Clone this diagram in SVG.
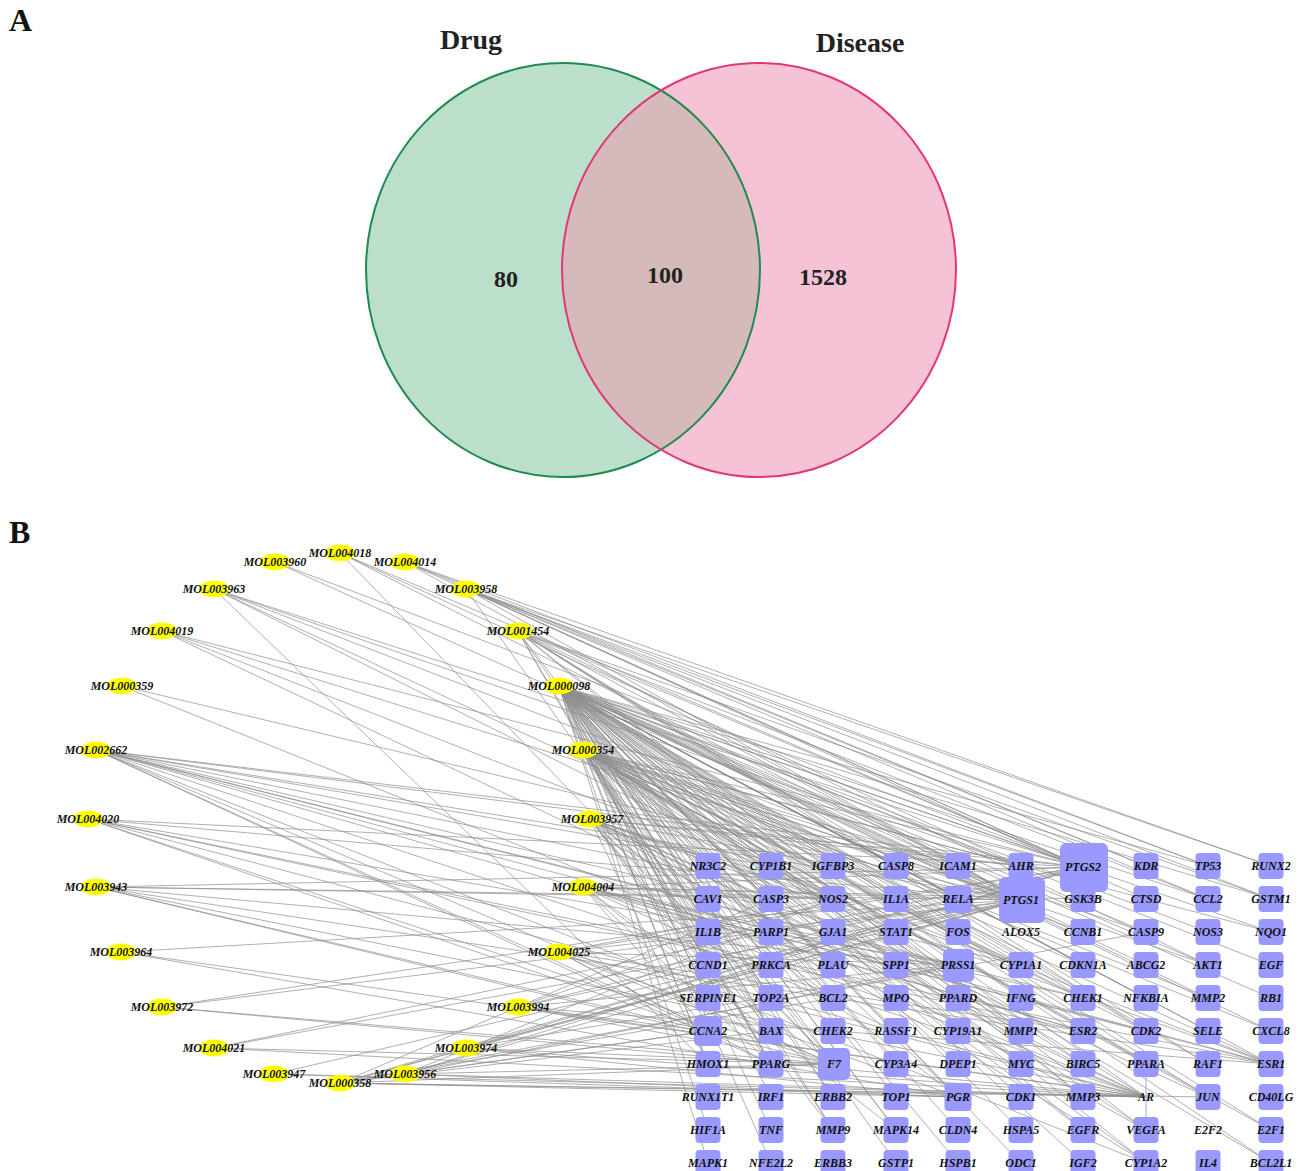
<svg xmlns="http://www.w3.org/2000/svg" width="1308" height="1171" viewBox="0 0 1308 1171">
<style>
.panel{font-family:"Liberation Serif",serif;font-weight:bold;font-size:32px;fill:#111}
.vt{font-family:"Liberation Serif",serif;font-weight:bold;font-size:28px;fill:#222;text-anchor:middle}
.vn{font-family:"Liberation Serif",serif;font-weight:bold;font-size:24px;fill:#222;text-anchor:middle}
.lbl{font-family:"Liberation Serif",serif;font-weight:bold;font-style:italic;font-size:12px;fill:#111;text-anchor:middle}
.mol ellipse{fill:#ffff00}
.gene rect{fill:#9999ff}
#edges line{stroke:#8e8e8e;stroke-width:0.7}
</style>
<defs>
<clipPath id="clipGreen"><ellipse cx="563" cy="270" rx="197" ry="207"/></clipPath>
</defs>
<rect width="1308" height="1171" fill="#ffffff"/>
<text class="panel" x="9" y="31">A</text>
<text class="panel" x="9" y="543">B</text>
<g id="venn">
<ellipse id="drug-set" cx="563" cy="270" rx="197" ry="207" fill="#bcdfcb"/>
<ellipse id="disease-set" cx="759" cy="270" rx="197" ry="207" fill="#f6c3d6"/>
<ellipse cx="759" cy="270" rx="197" ry="207" fill="#d6b9b9" clip-path="url(#clipGreen)"/>
<ellipse cx="563" cy="270" rx="197" ry="207" fill="none" stroke="#1f8b4f" stroke-width="2"/>
<ellipse cx="759" cy="270" rx="197" ry="207" fill="none" stroke="#e0377a" stroke-width="2"/>
<text class="vt" x="471" y="49">Drug</text>
<text class="vt" x="860" y="52">Disease</text>
<text class="vn" x="506" y="287">80</text>
<text class="vn" x="665" y="283">100</text>
<text class="vn" x="823" y="285">1528</text>
</g>
<g id="edges">
<line x1="559" y1="686" x2="771" y2="866"/><line x1="559" y1="686" x2="833" y2="866"/><line x1="559" y1="686" x2="896" y2="866"/><line x1="559" y1="686" x2="958" y2="866"/><line x1="559" y1="686" x2="1021" y2="866"/><line x1="559" y1="686" x2="1083" y2="867"/><line x1="559" y1="686" x2="1208" y2="866"/>
<line x1="559" y1="686" x2="708" y2="899"/><line x1="559" y1="686" x2="771" y2="899"/><line x1="559" y1="686" x2="833" y2="899"/><line x1="559" y1="686" x2="896" y2="899"/><line x1="559" y1="686" x2="958" y2="899"/><line x1="559" y1="686" x2="1022" y2="900"/><line x1="559" y1="686" x2="1208" y2="899"/><line x1="559" y1="686" x2="1271" y2="899"/>
<line x1="559" y1="686" x2="708" y2="932"/><line x1="559" y1="686" x2="771" y2="932"/><line x1="559" y1="686" x2="833" y2="932"/><line x1="559" y1="686" x2="896" y2="932"/><line x1="559" y1="686" x2="958" y2="932"/><line x1="559" y1="686" x2="1083" y2="932"/><line x1="559" y1="686" x2="1146" y2="932"/><line x1="559" y1="686" x2="1208" y2="932"/><line x1="559" y1="686" x2="1271" y2="932"/>
<line x1="559" y1="686" x2="708" y2="965"/><line x1="559" y1="686" x2="833" y2="965"/><line x1="559" y1="686" x2="896" y2="965"/><line x1="559" y1="686" x2="1021" y2="965"/><line x1="559" y1="686" x2="1083" y2="965"/><line x1="559" y1="686" x2="1146" y2="965"/><line x1="559" y1="686" x2="1208" y2="965"/><line x1="559" y1="686" x2="1271" y2="965"/>
<line x1="559" y1="686" x2="708" y2="998"/><line x1="559" y1="686" x2="771" y2="998"/><line x1="559" y1="686" x2="833" y2="998"/><line x1="559" y1="686" x2="1021" y2="998"/><line x1="559" y1="686" x2="1083" y2="998"/><line x1="559" y1="686" x2="1146" y2="998"/><line x1="559" y1="686" x2="1208" y2="998"/><line x1="559" y1="686" x2="1271" y2="998"/>
<line x1="559" y1="686" x2="708" y2="1031"/><line x1="559" y1="686" x2="771" y2="1031"/><line x1="559" y1="686" x2="833" y2="1031"/><line x1="559" y1="686" x2="896" y2="1031"/><line x1="559" y1="686" x2="1021" y2="1031"/><line x1="559" y1="686" x2="1146" y2="1031"/><line x1="559" y1="686" x2="1208" y2="1031"/><line x1="559" y1="686" x2="1271" y2="1031"/>
<line x1="559" y1="686" x2="708" y2="1064"/><line x1="559" y1="686" x2="771" y2="1064"/><line x1="559" y1="686" x2="834" y2="1064"/><line x1="559" y1="686" x2="896" y2="1064"/><line x1="559" y1="686" x2="958" y2="1064"/><line x1="559" y1="686" x2="1021" y2="1064"/><line x1="559" y1="686" x2="1083" y2="1064"/><line x1="559" y1="686" x2="1146" y2="1064"/><line x1="559" y1="686" x2="1208" y2="1064"/><line x1="559" y1="686" x2="1271" y2="1064"/>
<line x1="559" y1="686" x2="771" y2="1097"/><line x1="559" y1="686" x2="833" y2="1097"/><line x1="559" y1="686" x2="896" y2="1097"/><line x1="559" y1="686" x2="958" y2="1097"/><line x1="559" y1="686" x2="1021" y2="1097"/><line x1="559" y1="686" x2="1083" y2="1097"/><line x1="559" y1="686" x2="1146" y2="1097"/><line x1="559" y1="686" x2="1208" y2="1097"/>
<line x1="559" y1="686" x2="708" y2="1130"/><line x1="559" y1="686" x2="771" y2="1130"/><line x1="559" y1="686" x2="833" y2="1130"/><line x1="559" y1="686" x2="896" y2="1130"/><line x1="559" y1="686" x2="958" y2="1130"/><line x1="559" y1="686" x2="1021" y2="1130"/><line x1="559" y1="686" x2="1083" y2="1130"/><line x1="559" y1="686" x2="1146" y2="1130"/><line x1="559" y1="686" x2="1271" y2="1130"/>
<line x1="559" y1="686" x2="708" y2="1163"/><line x1="559" y1="686" x2="771" y2="1163"/><line x1="559" y1="686" x2="896" y2="1163"/><line x1="559" y1="686" x2="958" y2="1163"/><line x1="559" y1="686" x2="1021" y2="1163"/><line x1="559" y1="686" x2="1083" y2="1163"/><line x1="559" y1="686" x2="1146" y2="1163"/><line x1="559" y1="686" x2="1271" y2="1163"/>
<line x1="583" y1="750" x2="771" y2="866"/><line x1="583" y1="750" x2="958" y2="866"/><line x1="583" y1="750" x2="1021" y2="866"/><line x1="583" y1="750" x2="1083" y2="867"/><line x1="583" y1="750" x2="1022" y2="900"/><line x1="583" y1="750" x2="958" y2="899"/><line x1="583" y1="750" x2="833" y2="899"/><line x1="583" y1="750" x2="771" y2="899"/><line x1="583" y1="750" x2="771" y2="932"/><line x1="583" y1="750" x2="896" y2="932"/><line x1="583" y1="750" x2="958" y2="932"/><line x1="583" y1="750" x2="1083" y2="932"/><line x1="583" y1="750" x2="1146" y2="932"/><line x1="583" y1="750" x2="1271" y2="932"/><line x1="583" y1="750" x2="708" y2="965"/><line x1="583" y1="750" x2="833" y2="965"/><line x1="583" y1="750" x2="1021" y2="965"/><line x1="583" y1="750" x2="1083" y2="965"/><line x1="583" y1="750" x2="1208" y2="965"/><line x1="583" y1="750" x2="771" y2="998"/><line x1="583" y1="750" x2="833" y2="998"/><line x1="583" y1="750" x2="1083" y2="998"/><line x1="583" y1="750" x2="1208" y2="998"/><line x1="583" y1="750" x2="771" y2="1031"/><line x1="583" y1="750" x2="1021" y2="1031"/><line x1="583" y1="750" x2="1146" y2="1031"/><line x1="583" y1="750" x2="1271" y2="1031"/><line x1="583" y1="750" x2="708" y2="1064"/><line x1="583" y1="750" x2="771" y2="1064"/><line x1="583" y1="750" x2="834" y2="1064"/><line x1="583" y1="750" x2="1021" y2="1064"/><line x1="583" y1="750" x2="1083" y2="1064"/><line x1="583" y1="750" x2="1146" y2="1064"/><line x1="583" y1="750" x2="1271" y2="1064"/><line x1="583" y1="750" x2="833" y2="1097"/><line x1="583" y1="750" x2="958" y2="1097"/><line x1="583" y1="750" x2="1146" y2="1097"/><line x1="583" y1="750" x2="1208" y2="1097"/><line x1="583" y1="750" x2="833" y2="1130"/><line x1="583" y1="750" x2="1083" y2="1130"/><line x1="583" y1="750" x2="1146" y2="1130"/><line x1="583" y1="750" x2="1271" y2="1130"/><line x1="583" y1="750" x2="1146" y2="1163"/><line x1="583" y1="750" x2="1271" y2="1163"/>
<line x1="590" y1="819" x2="1083" y2="867"/><line x1="590" y1="819" x2="1022" y2="900"/><line x1="590" y1="819" x2="1021" y2="866"/><line x1="590" y1="819" x2="833" y2="899"/><line x1="590" y1="819" x2="771" y2="899"/><line x1="590" y1="819" x2="708" y2="932"/><line x1="590" y1="819" x2="958" y2="932"/><line x1="590" y1="819" x2="708" y2="965"/><line x1="590" y1="819" x2="833" y2="998"/><line x1="590" y1="819" x2="771" y2="1031"/><line x1="590" y1="819" x2="1021" y2="1031"/><line x1="590" y1="819" x2="708" y2="1064"/><line x1="590" y1="819" x2="834" y2="1064"/><line x1="590" y1="819" x2="771" y2="1064"/><line x1="590" y1="819" x2="1271" y2="1064"/><line x1="590" y1="819" x2="1146" y2="1097"/><line x1="590" y1="819" x2="958" y2="1097"/><line x1="590" y1="819" x2="1208" y2="1097"/><line x1="590" y1="819" x2="833" y2="1130"/><line x1="590" y1="819" x2="1146" y2="1130"/><line x1="590" y1="819" x2="1021" y2="965"/><line x1="590" y1="819" x2="1146" y2="1163"/>
<line x1="583" y1="887" x2="1083" y2="867"/><line x1="583" y1="887" x2="1022" y2="900"/><line x1="583" y1="887" x2="833" y2="899"/><line x1="583" y1="887" x2="1146" y2="1097"/><line x1="583" y1="887" x2="1271" y2="1064"/><line x1="583" y1="887" x2="771" y2="1064"/><line x1="583" y1="887" x2="834" y2="1064"/><line x1="583" y1="887" x2="708" y2="1031"/><line x1="583" y1="887" x2="958" y2="965"/><line x1="583" y1="887" x2="1083" y2="998"/><line x1="583" y1="887" x2="1146" y2="1031"/><line x1="583" y1="887" x2="896" y2="1130"/><line x1="583" y1="887" x2="1083" y2="899"/><line x1="583" y1="887" x2="1083" y2="1031"/><line x1="583" y1="887" x2="896" y2="1031"/>
<line x1="559" y1="952" x2="1083" y2="867"/><line x1="559" y1="952" x2="1022" y2="900"/><line x1="559" y1="952" x2="1146" y2="1097"/><line x1="559" y1="952" x2="834" y2="1064"/><line x1="559" y1="952" x2="958" y2="965"/><line x1="559" y1="952" x2="1083" y2="1031"/><line x1="559" y1="952" x2="708" y2="1031"/><line x1="559" y1="952" x2="833" y2="899"/><line x1="559" y1="952" x2="771" y2="1064"/><line x1="559" y1="952" x2="958" y2="1097"/>
<line x1="518" y1="1007" x2="1083" y2="867"/><line x1="518" y1="1007" x2="1022" y2="900"/><line x1="518" y1="1007" x2="1146" y2="1097"/><line x1="518" y1="1007" x2="958" y2="965"/><line x1="518" y1="1007" x2="834" y2="1064"/><line x1="518" y1="1007" x2="708" y2="1031"/><line x1="518" y1="1007" x2="1271" y2="1064"/><line x1="518" y1="1007" x2="833" y2="899"/>
<line x1="466" y1="1048" x2="1083" y2="867"/><line x1="466" y1="1048" x2="1022" y2="900"/><line x1="466" y1="1048" x2="1146" y2="1097"/><line x1="466" y1="1048" x2="834" y2="1064"/><line x1="466" y1="1048" x2="958" y2="965"/><line x1="466" y1="1048" x2="958" y2="1097"/>
<line x1="405" y1="1074" x2="1083" y2="867"/><line x1="405" y1="1074" x2="1022" y2="900"/><line x1="405" y1="1074" x2="1146" y2="1097"/><line x1="405" y1="1074" x2="834" y2="1064"/><line x1="405" y1="1074" x2="958" y2="965"/><line x1="405" y1="1074" x2="708" y2="1031"/><line x1="405" y1="1074" x2="958" y2="1097"/><line x1="405" y1="1074" x2="833" y2="899"/>
<line x1="340" y1="1083" x2="1083" y2="867"/><line x1="340" y1="1083" x2="1022" y2="900"/><line x1="340" y1="1083" x2="1146" y2="1097"/><line x1="340" y1="1083" x2="958" y2="1097"/><line x1="340" y1="1083" x2="834" y2="1064"/><line x1="340" y1="1083" x2="708" y2="1031"/><line x1="340" y1="1083" x2="771" y2="965"/><line x1="340" y1="1083" x2="833" y2="998"/><line x1="340" y1="1083" x2="771" y2="899"/><line x1="340" y1="1083" x2="1146" y2="932"/><line x1="340" y1="1083" x2="1208" y2="1097"/><line x1="340" y1="1083" x2="771" y2="1031"/>
<line x1="274" y1="1074" x2="1146" y2="1097"/><line x1="274" y1="1074" x2="958" y2="1097"/><line x1="274" y1="1074" x2="1022" y2="900"/>
<line x1="214" y1="1048" x2="1022" y2="900"/><line x1="214" y1="1048" x2="1083" y2="867"/><line x1="214" y1="1048" x2="1146" y2="1097"/><line x1="214" y1="1048" x2="834" y2="1064"/>
<line x1="162" y1="1007" x2="1083" y2="867"/><line x1="162" y1="1007" x2="1146" y2="1097"/><line x1="162" y1="1007" x2="1022" y2="900"/><line x1="162" y1="1007" x2="834" y2="1064"/>
<line x1="121" y1="952" x2="1146" y2="1097"/><line x1="121" y1="952" x2="958" y2="1097"/><line x1="121" y1="952" x2="1022" y2="900"/>
<line x1="96" y1="887" x2="1083" y2="867"/><line x1="96" y1="887" x2="1022" y2="900"/><line x1="96" y1="887" x2="1146" y2="1097"/><line x1="96" y1="887" x2="834" y2="1064"/><line x1="96" y1="887" x2="958" y2="965"/><line x1="96" y1="887" x2="708" y2="1031"/><line x1="96" y1="887" x2="1271" y2="1064"/><line x1="96" y1="887" x2="833" y2="899"/>
<line x1="88" y1="819" x2="1083" y2="867"/><line x1="88" y1="819" x2="1022" y2="900"/><line x1="88" y1="819" x2="1146" y2="1097"/><line x1="88" y1="819" x2="834" y2="1064"/><line x1="88" y1="819" x2="958" y2="965"/><line x1="88" y1="819" x2="708" y2="1031"/><line x1="88" y1="819" x2="1271" y2="1064"/><line x1="88" y1="819" x2="1083" y2="1031"/>
<line x1="96" y1="750" x2="1083" y2="867"/><line x1="96" y1="750" x2="1022" y2="900"/><line x1="96" y1="750" x2="1021" y2="866"/><line x1="96" y1="750" x2="1021" y2="965"/><line x1="96" y1="750" x2="1146" y2="1163"/><line x1="96" y1="750" x2="771" y2="866"/><line x1="96" y1="750" x2="1146" y2="1097"/><line x1="96" y1="750" x2="1271" y2="1064"/><line x1="96" y1="750" x2="833" y2="899"/><line x1="96" y1="750" x2="771" y2="1064"/><line x1="96" y1="750" x2="834" y2="1064"/><line x1="96" y1="750" x2="958" y2="965"/><line x1="96" y1="750" x2="708" y2="1031"/><line x1="96" y1="750" x2="1083" y2="998"/><line x1="96" y1="750" x2="1083" y2="1031"/>
<line x1="122" y1="686" x2="1146" y2="1097"/><line x1="122" y1="686" x2="1022" y2="900"/>
<line x1="162" y1="631" x2="1083" y2="867"/><line x1="162" y1="631" x2="1022" y2="900"/><line x1="162" y1="631" x2="1146" y2="1097"/><line x1="162" y1="631" x2="1271" y2="1064"/>
<line x1="214" y1="589" x2="1083" y2="867"/><line x1="214" y1="589" x2="1022" y2="900"/><line x1="214" y1="589" x2="1021" y2="866"/><line x1="214" y1="589" x2="833" y2="899"/><line x1="214" y1="589" x2="1021" y2="965"/><line x1="214" y1="589" x2="708" y2="1064"/>
<line x1="275" y1="562" x2="1083" y2="867"/><line x1="275" y1="562" x2="1022" y2="900"/>
<line x1="340" y1="553" x2="1083" y2="867"/><line x1="340" y1="553" x2="1022" y2="900"/><line x1="340" y1="553" x2="834" y2="1064"/><line x1="340" y1="553" x2="1021" y2="866"/>
<line x1="405" y1="562" x2="1083" y2="867"/><line x1="405" y1="562" x2="1022" y2="900"/><line x1="405" y1="562" x2="1271" y2="866"/><line x1="405" y1="562" x2="1208" y2="866"/><line x1="405" y1="562" x2="1146" y2="866"/>
<line x1="466" y1="589" x2="1083" y2="867"/><line x1="466" y1="589" x2="1022" y2="900"/><line x1="466" y1="589" x2="1271" y2="866"/><line x1="466" y1="589" x2="1208" y2="866"/><line x1="466" y1="589" x2="1146" y2="866"/><line x1="466" y1="589" x2="1271" y2="899"/><line x1="466" y1="589" x2="1208" y2="899"/><line x1="466" y1="589" x2="708" y2="932"/><line x1="466" y1="589" x2="1146" y2="899"/>
<line x1="518" y1="631" x2="1083" y2="867"/><line x1="518" y1="631" x2="1022" y2="900"/><line x1="518" y1="631" x2="1271" y2="899"/><line x1="518" y1="631" x2="1208" y2="899"/><line x1="518" y1="631" x2="896" y2="866"/><line x1="518" y1="631" x2="958" y2="899"/><line x1="518" y1="631" x2="708" y2="965"/><line x1="518" y1="631" x2="771" y2="998"/><line x1="518" y1="631" x2="1021" y2="1031"/><line x1="518" y1="631" x2="1146" y2="1031"/><line x1="518" y1="631" x2="1208" y2="1064"/><line x1="518" y1="631" x2="1083" y2="1097"/><line x1="518" y1="631" x2="896" y2="1130"/><line x1="518" y1="631" x2="1208" y2="965"/><line x1="518" y1="631" x2="771" y2="1064"/>
<line x1="1146" y1="1064" x2="1146" y2="1130" style="stroke:#b3b3ff;stroke-width:1.2"/>
</g>
<g id="compounds">
<g id="MOL003960" class="mol"><ellipse cx="275" cy="562" rx="15" ry="8.5"/><text class="lbl" x="275" y="566">MOL003960</text></g>
<g id="MOL004018" class="mol"><ellipse cx="340" cy="553" rx="15" ry="8.5"/><text class="lbl" x="340" y="557">MOL004018</text></g>
<g id="MOL004014" class="mol"><ellipse cx="405" cy="562" rx="15" ry="8.5"/><text class="lbl" x="405" y="566">MOL004014</text></g>
<g id="MOL003963" class="mol"><ellipse cx="214" cy="589" rx="15" ry="8.5"/><text class="lbl" x="214" y="593">MOL003963</text></g>
<g id="MOL003958" class="mol"><ellipse cx="466" cy="589" rx="15" ry="8.5"/><text class="lbl" x="466" y="593">MOL003958</text></g>
<g id="MOL004019" class="mol"><ellipse cx="162" cy="631" rx="15" ry="8.5"/><text class="lbl" x="162" y="635">MOL004019</text></g>
<g id="MOL001454" class="mol"><ellipse cx="518" cy="631" rx="15" ry="8.5"/><text class="lbl" x="518" y="635">MOL001454</text></g>
<g id="MOL000359" class="mol"><ellipse cx="122" cy="686" rx="15" ry="8.5"/><text class="lbl" x="122" y="690">MOL000359</text></g>
<g id="MOL000098" class="mol"><ellipse cx="559" cy="686" rx="15" ry="8.5"/><text class="lbl" x="559" y="690">MOL000098</text></g>
<g id="MOL002662" class="mol"><ellipse cx="96" cy="750" rx="15" ry="8.5"/><text class="lbl" x="96" y="754">MOL002662</text></g>
<g id="MOL000354" class="mol"><ellipse cx="583" cy="750" rx="15" ry="8.5"/><text class="lbl" x="583" y="754">MOL000354</text></g>
<g id="MOL004020" class="mol"><ellipse cx="88" cy="819" rx="15" ry="8.5"/><text class="lbl" x="88" y="823">MOL004020</text></g>
<g id="MOL003957" class="mol"><ellipse cx="590" cy="819" rx="15" ry="8.5"/><text class="lbl" x="592" y="823">MOL003957</text></g>
<g id="MOL003943" class="mol"><ellipse cx="96" cy="887" rx="15" ry="8.5"/><text class="lbl" x="96" y="891">MOL003943</text></g>
<g id="MOL004004" class="mol"><ellipse cx="583" cy="887" rx="15" ry="8.5"/><text class="lbl" x="583" y="891">MOL004004</text></g>
<g id="MOL003964" class="mol"><ellipse cx="121" cy="952" rx="15" ry="8.5"/><text class="lbl" x="121" y="956">MOL003964</text></g>
<g id="MOL004025" class="mol"><ellipse cx="559" cy="952" rx="15" ry="8.5"/><text class="lbl" x="559" y="956">MOL004025</text></g>
<g id="MOL003972" class="mol"><ellipse cx="162" cy="1007" rx="15" ry="8.5"/><text class="lbl" x="162" y="1011">MOL003972</text></g>
<g id="MOL003994" class="mol"><ellipse cx="518" cy="1007" rx="15" ry="8.5"/><text class="lbl" x="518" y="1011">MOL003994</text></g>
<g id="MOL004021" class="mol"><ellipse cx="214" cy="1048" rx="15" ry="8.5"/><text class="lbl" x="214" y="1052">MOL004021</text></g>
<g id="MOL003974" class="mol"><ellipse cx="466" cy="1048" rx="15" ry="8.5"/><text class="lbl" x="466" y="1052">MOL003974</text></g>
<g id="MOL003947" class="mol"><ellipse cx="274" cy="1074" rx="15" ry="8.5"/><text class="lbl" x="274" y="1078">MOL003947</text></g>
<g id="MOL000358" class="mol"><ellipse cx="340" cy="1083" rx="15" ry="8.5"/><text class="lbl" x="340" y="1087">MOL000358</text></g>
<g id="MOL003956" class="mol"><ellipse cx="405" cy="1074" rx="15" ry="8.5"/><text class="lbl" x="405" y="1078">MOL003956</text></g>
</g>
<g id="targets">
<g id="NR3C2" class="gene"><rect x="695.5" y="853" width="25" height="26" rx="4"/><text class="lbl" x="708" y="870">NR3C2</text></g>
<g id="CYP1B1" class="gene"><rect x="758.5" y="853" width="25" height="26" rx="4"/><text class="lbl" x="771" y="870">CYP1B1</text></g>
<g id="IGFBP3" class="gene"><rect x="820.5" y="853" width="25" height="26" rx="4"/><text class="lbl" x="833" y="870">IGFBP3</text></g>
<g id="CASP8" class="gene"><rect x="883.5" y="853" width="25" height="26" rx="4"/><text class="lbl" x="896" y="870">CASP8</text></g>
<g id="ICAM1" class="gene"><rect x="945.5" y="853" width="25" height="26" rx="4"/><text class="lbl" x="958" y="870">ICAM1</text></g>
<g id="AHR" class="gene"><rect x="1008.5" y="853" width="25" height="26" rx="4"/><text class="lbl" x="1021" y="870">AHR</text></g>
<g id="KDR" class="gene"><rect x="1133.5" y="853" width="25" height="26" rx="4"/><text class="lbl" x="1146" y="870">KDR</text></g>
<g id="TP53" class="gene"><rect x="1195.5" y="853" width="25" height="26" rx="4"/><text class="lbl" x="1208" y="870">TP53</text></g>
<g id="RUNX2" class="gene"><rect x="1258.5" y="853" width="25" height="26" rx="4"/><text class="lbl" x="1271" y="870">RUNX2</text></g>
<g id="CAV1" class="gene"><rect x="695.5" y="886" width="25" height="26" rx="4"/><text class="lbl" x="708" y="903">CAV1</text></g>
<g id="CASP3" class="gene"><rect x="758.5" y="886" width="25" height="26" rx="4"/><text class="lbl" x="771" y="903">CASP3</text></g>
<g id="NOS2" class="gene"><rect x="820.5" y="886" width="25" height="26" rx="4"/><text class="lbl" x="833" y="903">NOS2</text></g>
<g id="IL1A" class="gene"><rect x="883.5" y="886" width="25" height="26" rx="4"/><text class="lbl" x="896" y="903">IL1A</text></g>
<g id="RELA" class="gene"><rect x="944.5" y="886" width="27" height="27" rx="4"/><text class="lbl" x="958" y="903">RELA</text></g>
<g id="GSK3B" class="gene"><rect x="1070.5" y="886" width="25" height="26" rx="4"/><text class="lbl" x="1083" y="903">GSK3B</text></g>
<g id="CTSD" class="gene"><rect x="1133.5" y="886" width="25" height="26" rx="4"/><text class="lbl" x="1146" y="903">CTSD</text></g>
<g id="CCL2" class="gene"><rect x="1195.5" y="886" width="25" height="26" rx="4"/><text class="lbl" x="1208" y="903">CCL2</text></g>
<g id="GSTM1" class="gene"><rect x="1258.5" y="886" width="25" height="26" rx="4"/><text class="lbl" x="1271" y="903">GSTM1</text></g>
<g id="PTGS2" class="gene"><rect x="1060" y="843" width="48" height="49" rx="6"/><text class="lbl" x="1083" y="871">PTGS2</text></g>
<g id="PTGS1" class="gene"><rect x="999" y="877" width="46" height="46" rx="6"/><text class="lbl" x="1021" y="904">PTGS1</text></g>
<g id="IL1B" class="gene"><rect x="695.5" y="919" width="25" height="26" rx="4"/><text class="lbl" x="708" y="936">IL1B</text></g>
<g id="PARP1" class="gene"><rect x="758.5" y="919" width="25" height="26" rx="4"/><text class="lbl" x="771" y="936">PARP1</text></g>
<g id="GJA1" class="gene"><rect x="820.5" y="919" width="25" height="26" rx="4"/><text class="lbl" x="833" y="936">GJA1</text></g>
<g id="STAT1" class="gene"><rect x="883.5" y="919" width="25" height="26" rx="4"/><text class="lbl" x="896" y="936">STAT1</text></g>
<g id="FOS" class="gene"><rect x="945.5" y="919" width="25" height="26" rx="4"/><text class="lbl" x="958" y="936">FOS</text></g>
<g id="ALOX5" class="gene"><text class="lbl" x="1021" y="936">ALOX5</text></g>
<g id="CCNB1" class="gene"><rect x="1070.5" y="919" width="25" height="26" rx="4"/><text class="lbl" x="1083" y="936">CCNB1</text></g>
<g id="CASP9" class="gene"><rect x="1133.5" y="919" width="25" height="26" rx="4"/><text class="lbl" x="1146" y="936">CASP9</text></g>
<g id="NOS3" class="gene"><rect x="1195.5" y="919" width="25" height="26" rx="4"/><text class="lbl" x="1208" y="936">NOS3</text></g>
<g id="NQO1" class="gene"><rect x="1258.5" y="919" width="25" height="26" rx="4"/><text class="lbl" x="1271" y="936">NQO1</text></g>
<g id="CCND1" class="gene"><rect x="695.5" y="952" width="25" height="26" rx="4"/><text class="lbl" x="708" y="969">CCND1</text></g>
<g id="PRKCA" class="gene"><rect x="758.5" y="952" width="25" height="26" rx="4"/><text class="lbl" x="771" y="969">PRKCA</text></g>
<g id="PLAU" class="gene"><rect x="820.5" y="952" width="25" height="26" rx="4"/><text class="lbl" x="833" y="969">PLAU</text></g>
<g id="SPP1" class="gene"><rect x="883.5" y="952" width="25" height="26" rx="4"/><text class="lbl" x="896" y="969">SPP1</text></g>
<g id="PRSS1" class="gene"><rect x="943" y="949" width="31" height="33" rx="5"/><text class="lbl" x="958" y="969">PRSS1</text></g>
<g id="CYP1A1" class="gene"><rect x="1008.5" y="952" width="25" height="26" rx="4"/><text class="lbl" x="1021" y="969">CYP1A1</text></g>
<g id="CDKN1A" class="gene"><rect x="1070.5" y="952" width="25" height="26" rx="4"/><text class="lbl" x="1083" y="969">CDKN1A</text></g>
<g id="ABCG2" class="gene"><rect x="1133.5" y="952" width="25" height="26" rx="4"/><text class="lbl" x="1146" y="969">ABCG2</text></g>
<g id="AKT1" class="gene"><rect x="1195.5" y="952" width="25" height="26" rx="4"/><text class="lbl" x="1208" y="969">AKT1</text></g>
<g id="EGF" class="gene"><rect x="1258.5" y="952" width="25" height="26" rx="4"/><text class="lbl" x="1271" y="969">EGF</text></g>
<g id="SERPINE1" class="gene"><rect x="695.5" y="985" width="25" height="26" rx="4"/><text class="lbl" x="708" y="1002">SERPINE1</text></g>
<g id="TOP2A" class="gene"><rect x="758.5" y="985" width="25" height="26" rx="4"/><text class="lbl" x="771" y="1002">TOP2A</text></g>
<g id="BCL2" class="gene"><rect x="820.5" y="985" width="25" height="26" rx="4"/><text class="lbl" x="833" y="1002">BCL2</text></g>
<g id="MPO" class="gene"><rect x="883.5" y="985" width="25" height="26" rx="4"/><text class="lbl" x="896" y="1002">MPO</text></g>
<g id="PPARD" class="gene"><rect x="945.5" y="985" width="25" height="26" rx="4"/><text class="lbl" x="958" y="1002">PPARD</text></g>
<g id="IFNG" class="gene"><rect x="1008.5" y="985" width="25" height="26" rx="4"/><text class="lbl" x="1021" y="1002">IFNG</text></g>
<g id="CHEK1" class="gene"><rect x="1070.5" y="985" width="25" height="26" rx="4"/><text class="lbl" x="1083" y="1002">CHEK1</text></g>
<g id="NFKBIA" class="gene"><rect x="1133.5" y="985" width="25" height="26" rx="4"/><text class="lbl" x="1146" y="1002">NFKBIA</text></g>
<g id="MMP2" class="gene"><rect x="1195.5" y="985" width="25" height="26" rx="4"/><text class="lbl" x="1208" y="1002">MMP2</text></g>
<g id="RB1" class="gene"><rect x="1258.5" y="985" width="25" height="26" rx="4"/><text class="lbl" x="1271" y="1002">RB1</text></g>
<g id="CCNA2" class="gene"><rect x="694" y="1016" width="28" height="30" rx="5"/><text class="lbl" x="708" y="1035">CCNA2</text></g>
<g id="BAX" class="gene"><rect x="758.5" y="1018" width="25" height="26" rx="4"/><text class="lbl" x="771" y="1035">BAX</text></g>
<g id="CHEK2" class="gene"><rect x="820.5" y="1018" width="25" height="26" rx="4"/><text class="lbl" x="833" y="1035">CHEK2</text></g>
<g id="RASSF1" class="gene"><rect x="883.5" y="1018" width="25" height="26" rx="4"/><text class="lbl" x="896" y="1035">RASSF1</text></g>
<g id="CYP19A1" class="gene"><rect x="945.5" y="1018" width="25" height="26" rx="4"/><text class="lbl" x="958" y="1035">CYP19A1</text></g>
<g id="MMP1" class="gene"><rect x="1008.5" y="1018" width="25" height="26" rx="4"/><text class="lbl" x="1021" y="1035">MMP1</text></g>
<g id="ESR2" class="gene"><rect x="1070.5" y="1018" width="25" height="26" rx="4"/><text class="lbl" x="1083" y="1035">ESR2</text></g>
<g id="CDK2" class="gene"><rect x="1133.5" y="1018" width="25" height="26" rx="4"/><text class="lbl" x="1146" y="1035">CDK2</text></g>
<g id="SELE" class="gene"><rect x="1195.5" y="1018" width="25" height="26" rx="4"/><text class="lbl" x="1208" y="1035">SELE</text></g>
<g id="CXCL8" class="gene"><rect x="1258.5" y="1018" width="25" height="26" rx="4"/><text class="lbl" x="1271" y="1035">CXCL8</text></g>
<g id="HMOX1" class="gene"><rect x="695.5" y="1051" width="25" height="26" rx="4"/><text class="lbl" x="708" y="1068">HMOX1</text></g>
<g id="PPARG" class="gene"><rect x="758.5" y="1051" width="25" height="26" rx="4"/><text class="lbl" x="771" y="1068">PPARG</text></g>
<g id="F7" class="gene"><rect x="818" y="1048" width="32" height="32" rx="5"/><text class="lbl" x="834" y="1068">F7</text></g>
<g id="CYP3A4" class="gene"><rect x="883.5" y="1051" width="25" height="26" rx="4"/><text class="lbl" x="896" y="1068">CYP3A4</text></g>
<g id="DPEP1" class="gene"><rect x="945.5" y="1051" width="25" height="26" rx="4"/><text class="lbl" x="958" y="1068">DPEP1</text></g>
<g id="MYC" class="gene"><rect x="1008.5" y="1051" width="25" height="26" rx="4"/><text class="lbl" x="1021" y="1068">MYC</text></g>
<g id="BIRC5" class="gene"><rect x="1070.5" y="1051" width="25" height="26" rx="4"/><text class="lbl" x="1083" y="1068">BIRC5</text></g>
<g id="PPARA" class="gene"><rect x="1133.5" y="1051" width="25" height="26" rx="4"/><text class="lbl" x="1146" y="1068">PPARA</text></g>
<g id="RAF1" class="gene"><rect x="1195.5" y="1051" width="25" height="26" rx="4"/><text class="lbl" x="1208" y="1068">RAF1</text></g>
<g id="ESR1" class="gene"><rect x="1258.5" y="1051" width="25" height="26" rx="4"/><text class="lbl" x="1271" y="1068">ESR1</text></g>
<g id="RUNX1T1" class="gene"><rect x="695.5" y="1084" width="25" height="26" rx="4"/><text class="lbl" x="708" y="1101">RUNX1T1</text></g>
<g id="IRF1" class="gene"><rect x="758.5" y="1084" width="25" height="26" rx="4"/><text class="lbl" x="771" y="1101">IRF1</text></g>
<g id="ERBB2" class="gene"><rect x="820.5" y="1084" width="25" height="26" rx="4"/><text class="lbl" x="833" y="1101">ERBB2</text></g>
<g id="TOP1" class="gene"><rect x="883.5" y="1084" width="25" height="26" rx="4"/><text class="lbl" x="896" y="1101">TOP1</text></g>
<g id="PGR" class="gene"><rect x="944.5" y="1083" width="27" height="28" rx="4"/><text class="lbl" x="958" y="1101">PGR</text></g>
<g id="CDK1" class="gene"><rect x="1008.5" y="1084" width="25" height="26" rx="4"/><text class="lbl" x="1021" y="1101">CDK1</text></g>
<g id="MMP3" class="gene"><rect x="1070.5" y="1084" width="25" height="26" rx="4"/><text class="lbl" x="1083" y="1101">MMP3</text></g>
<g id="AR" class="gene"><text class="lbl" x="1146" y="1101">AR</text></g>
<g id="JUN" class="gene"><rect x="1195.5" y="1084" width="25" height="26" rx="4"/><text class="lbl" x="1208" y="1101">JUN</text></g>
<g id="CD40LG" class="gene"><rect x="1258.5" y="1084" width="25" height="26" rx="4"/><text class="lbl" x="1271" y="1101">CD40LG</text></g>
<g id="HIF1A" class="gene"><rect x="695.5" y="1117" width="25" height="26" rx="4"/><text class="lbl" x="708" y="1134">HIF1A</text></g>
<g id="TNF" class="gene"><rect x="758.5" y="1117" width="25" height="26" rx="4"/><text class="lbl" x="771" y="1134">TNF</text></g>
<g id="MMP9" class="gene"><rect x="820.5" y="1117" width="25" height="26" rx="4"/><text class="lbl" x="833" y="1134">MMP9</text></g>
<g id="MAPK14" class="gene"><rect x="883.5" y="1117" width="25" height="26" rx="4"/><text class="lbl" x="896" y="1134">MAPK14</text></g>
<g id="CLDN4" class="gene"><rect x="945.5" y="1117" width="25" height="26" rx="4"/><text class="lbl" x="958" y="1134">CLDN4</text></g>
<g id="HSPA5" class="gene"><rect x="1008.5" y="1117" width="25" height="26" rx="4"/><text class="lbl" x="1021" y="1134">HSPA5</text></g>
<g id="EGFR" class="gene"><rect x="1070.5" y="1117" width="25" height="26" rx="4"/><text class="lbl" x="1083" y="1134">EGFR</text></g>
<g id="VEGFA" class="gene"><rect x="1133.5" y="1117" width="25" height="26" rx="4"/><text class="lbl" x="1146" y="1134">VEGFA</text></g>
<g id="E2F2" class="gene"><text class="lbl" x="1208" y="1134">E2F2</text></g>
<g id="E2F1" class="gene"><rect x="1258.5" y="1117" width="25" height="26" rx="4"/><text class="lbl" x="1271" y="1134">E2F1</text></g>
<g id="MAPK1" class="gene"><rect x="695.5" y="1150" width="25" height="26" rx="4"/><text class="lbl" x="708" y="1167">MAPK1</text></g>
<g id="NFE2L2" class="gene"><rect x="758.5" y="1150" width="25" height="26" rx="4"/><text class="lbl" x="771" y="1167">NFE2L2</text></g>
<g id="ERBB3" class="gene"><rect x="820.5" y="1150" width="25" height="26" rx="4"/><text class="lbl" x="833" y="1167">ERBB3</text></g>
<g id="GSTP1" class="gene"><rect x="883.5" y="1150" width="25" height="26" rx="4"/><text class="lbl" x="896" y="1167">GSTP1</text></g>
<g id="HSPB1" class="gene"><rect x="945.5" y="1150" width="25" height="26" rx="4"/><text class="lbl" x="958" y="1167">HSPB1</text></g>
<g id="ODC1" class="gene"><rect x="1008.5" y="1150" width="25" height="26" rx="4"/><text class="lbl" x="1021" y="1167">ODC1</text></g>
<g id="IGF2" class="gene"><rect x="1070.5" y="1150" width="25" height="26" rx="4"/><text class="lbl" x="1083" y="1167">IGF2</text></g>
<g id="CYP1A2" class="gene"><rect x="1133.5" y="1150" width="25" height="26" rx="4"/><text class="lbl" x="1146" y="1167">CYP1A2</text></g>
<g id="IL4" class="gene"><rect x="1195.5" y="1150" width="25" height="26" rx="4"/><text class="lbl" x="1208" y="1167">IL4</text></g>
<g id="BCL2L1" class="gene"><rect x="1258.5" y="1150" width="25" height="26" rx="4"/><text class="lbl" x="1271" y="1167">BCL2L1</text></g>
</g>
</svg>
